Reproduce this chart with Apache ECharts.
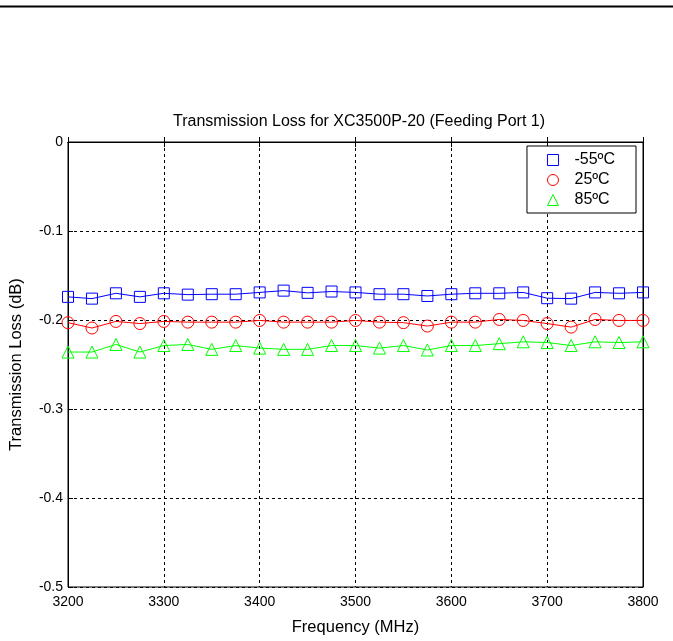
<!DOCTYPE html>
<html>
<head>
<meta charset="utf-8">
<script src="https://cdn.jsdelivr.net/npm/echarts@6/dist/echarts.min.js"></script>
<style>html,body{margin:0;padding:0;background:#fff;}#c{width:673px;height:641px;}</style>
</head>
<body>
<div id="c"></div>
<script>
const freqs = [3200,3225,3250,3275,3300,3325,3350,3375,3400,3425,3450,3475,3500,3525,3550,3575,3600,3625,3650,3675,3700,3725,3750,3775,3800];
const lossM55 = [-0.174,-0.176,-0.170,-0.174,-0.170,-0.1715,-0.171,-0.171,-0.169,-0.167,-0.1695,-0.168,-0.169,-0.171,-0.171,-0.173,-0.171,-0.170,-0.170,-0.169,-0.1755,-0.176,-0.169,-0.170,-0.169];
const loss25 = [-0.203,-0.209,-0.2016,-0.204,-0.2016,-0.2024,-0.2024,-0.2024,-0.2005,-0.2024,-0.2024,-0.2024,-0.2005,-0.2024,-0.203,-0.2068,-0.2024,-0.2024,-0.1994,-0.2005,-0.204,-0.208,-0.1994,-0.2005,-0.2005];
const loss85 = [-0.236,-0.236,-0.2275,-0.236,-0.2287,-0.2275,-0.233,-0.2287,-0.2316,-0.233,-0.233,-0.2287,-0.2287,-0.2316,-0.2287,-0.2337,-0.2287,-0.2287,-0.2266,-0.2245,-0.2253,-0.2287,-0.2245,-0.2253,-0.2245];
const seriesNames = ['-55ºC','25ºC','85ºC'];
const xTicks = [3200,3300,3400,3500,3600,3700,3800];
const yTicks = [0,-0.1,-0.2,-0.3,-0.4,-0.5];

const font = 'Liberation Sans, Arial, sans-serif';
const colors = ['#0000ff','#ff0000','#00ff00'];
const symbols = ['rect','circle','triangle'];
const datas = [lossM55, loss25, loss85];

const chart = echarts.init(document.getElementById('c'), null, {renderer:'canvas'});
const mkSeries = (i) => ({
  name: seriesNames[i],
  type: 'line',
  data: freqs.map((f,k)=>[f, datas[i][k]]),
  symbol: symbols[i],
  symbolSize: i===0 ? 11 : 12,
  showAllSymbol: true,
  lineStyle: {color: colors[i], width: 1},
  itemStyle: {color: 'rgba(0,0,0,0)', borderColor: colors[i], borderWidth: 1},
  emphasis: {disabled: true},
  animation: false
});
const option = {
  animation: false,
  backgroundColor: '#fff',
  title: {
    text: 'Transmission Loss for XC3500P-20 (Feeding Port 1)',
    left: 354, top: 109, textAlign: 'center',
    textStyle: {fontFamily: font, fontSize: 16, fontWeight: 'normal', color: '#000'}
  },
  grid: {left: 68, right: 30, top: 142, bottom: 49, show: true, borderColor: '#000', borderWidth: 1, backgroundColor: '#fff'},
  legend: {
    orient: 'vertical', right: 37, top: 146,
    backgroundColor: '#fff', borderColor: '#000', borderWidth: 1,
    padding: [6, 21, 5, 20], itemGap: 4, itemWidth: 11, itemHeight: 11,
    textStyle: {fontFamily: font, fontSize: 16, color: '#000', padding: [0,0,0,11]},
    data: seriesNames.map((n,i)=>({name: n, icon: symbols[i], itemStyle: {color: 'rgba(0,0,0,0)', borderColor: colors[i], borderWidth: 1}}))
  },
  xAxis: [{
    type: 'value', min: 3200, max: 3800, interval: 100,
    name: 'Frequency (MHz)', nameLocation: 'middle', nameGap: 32,
    nameTextStyle: {fontFamily: font, fontSize: 16.5, color: '#000'},
    axisLine: {show: true, lineStyle: {color: '#000'}},
    axisTick: {inside: true, length: 5, lineStyle: {color: '#000'}},
    axisLabel: {fontFamily: font, fontSize: 14, color: '#000', margin: 8,
      formatter: v => String(xTicks.find(t => Math.abs(t - v) < 1e-6) ?? v)},
    splitLine: {show: true, lineStyle: {color: '#000', type: [3,3], width: 1}}
  },{
    type: 'value', min: 3200, max: 3800, interval: 100, position: 'top',
    axisLine: {show: true, lineStyle: {color: '#000'}},
    axisTick: {inside: true, length: 5, lineStyle: {color: '#000'}},
    axisLabel: {show: false}, splitLine: {show: false}
  }],
  yAxis: [{
    type: 'value', min: -0.5, max: 0, interval: 0.1,
    name: 'Transmission Loss (dB)', nameLocation: 'middle', nameGap: 43,
    nameTextStyle: {fontFamily: font, fontSize: 16.5, color: '#000'},
    axisLine: {show: true, lineStyle: {color: '#000'}},
    axisTick: {inside: true, length: 5, lineStyle: {color: '#000'}},
    axisLabel: {fontFamily: font, fontSize: 14, color: '#000', margin: 5,
      formatter: v => { const r = Math.round(v*10)/10; const m = yTicks.find(t=>Math.abs(t-r)<1e-9); return m===0 ? '0' : String(m); }},
    splitLine: {show: true, lineStyle: {color: '#000', type: [3,3], width: 1}}
  },{
    type: 'value', min: -0.5, max: 0, interval: 0.1, position: 'right',
    axisLine: {show: true, lineStyle: {color: '#000'}},
    axisTick: {inside: true, length: 5, lineStyle: {color: '#000'}},
    axisLabel: {show: false}, splitLine: {show: false}
  }],
  graphic: [{type: 'rect', shape: {x: 0, y: 5.5, width: 673, height: 2}, style: {fill: '#000'}, silent: true}],
  series: [0,1,2].map(mkSeries)
};
chart.setOption(option);
</script>
</body>
</html>
